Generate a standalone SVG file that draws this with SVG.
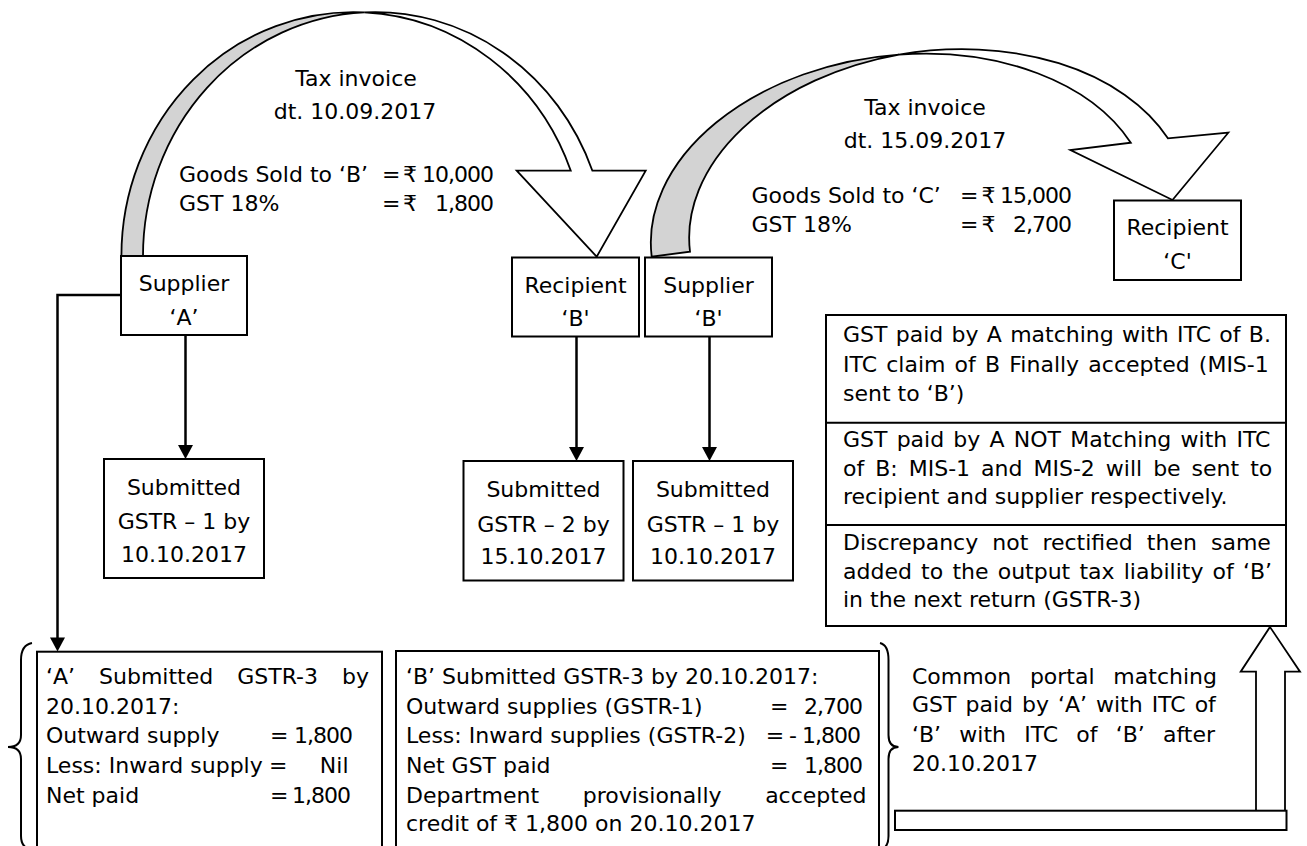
<svg xmlns="http://www.w3.org/2000/svg" width="1307" height="846" viewBox="0 0 1307 846">
<defs>
<style>
.box{fill:#fff;stroke:#000;stroke-width:2}
.ln{fill:none;stroke:#000;stroke-width:2}
.t{font-family:"DejaVu Sans","Liberation Sans",sans-serif;font-size:22px;fill:#000}
.c{text-anchor:middle}
.e{text-anchor:end}
.n{letter-spacing:-1px}
.conn{fill:none;stroke:#000;stroke-width:2.5}
.blk{fill:#fff;stroke:#000;stroke-width:1.8;stroke-linejoin:miter}
.back{fill:#d3d3d3;stroke:#000;stroke-width:1.8}
.brace{fill:none;stroke:#000;stroke-width:2}
</style>
<marker id="ah" viewBox="0 0 16 16" markerUnits="userSpaceOnUse" markerWidth="16" markerHeight="16" refX="12" refY="8" orient="auto">
<path d="M1,0.5 L15,8 L1,15.5 Z" fill="#000"/>
</marker>
</defs>
<rect width="1307" height="846" fill="#fff"/>

<g id="connectors">
<g id="invoice-arrow-1">
<path class="back" d="M121.4,256 A232 244 0 0 1 364.2,12.3 A232 244 0 0 0 143,256 Z"/>
<path class="blk" d="M364.2,12.3 A232 244 0 0 1 592.4,170.7 L645.7,170.7 L596.7,256.7 L516.7,170.7 L570.8,170.7 A232 244 0 0 0 364.2,12.3 Z"/>
</g>
<g id="invoice-arrow-2">
<path class="back" d="M651.7,256.7 A251.3 171 -7 0 1 899,54.6 A251.3 171 -7 0 0 690,251.7 Z"/>
<path class="blk" d="M899,54.6 A251.3 171 -7 0 1 1167.9,138.3 L1228.3,132.7 L1172.5,200 L1070.4,150 L1130.8,142.7 A251.3 171 -7 0 0 899,54.6 Z"/>
</g>
<path class="conn" d="M185.5,335 V456" marker-end="url(#ah)"/>
<path class="conn" d="M576.5,337 V458" marker-end="url(#ah)"/>
<path class="conn" d="M709.5,337 V458" marker-end="url(#ah)"/>
<path class="conn" d="M121,295 H57.5 V648.5" marker-end="url(#ah)"/>
</g>

<g id="invoice-label-1">
<text class="t c" x="356" y="86">Tax invoice</text>
<text class="t c" x="355" y="119">dt. 10.09.2017</text>
<text class="t" x="179" y="182">Goods Sold to ‘B’</text>
<text class="t" x="382" y="182">=</text>
<text class="t" x="403" y="182">₹</text>
<text class="t e n" x="493" y="182">10,000</text>
<text class="t" x="179" y="211">GST 18%</text>
<text class="t" x="382" y="211">=</text>
<text class="t" x="403" y="211">₹</text>
<text class="t e n" x="493" y="211">1,800</text>
</g>

<g id="invoice-label-2">
<text class="t c" x="925" y="115">Tax invoice</text>
<text class="t c" x="925" y="148">dt. 15.09.2017</text>
<text class="t" x="751.5" y="203">Goods Sold to ‘C’</text>
<text class="t" x="960" y="203">=</text>
<text class="t" x="981.5" y="203">₹</text>
<text class="t e n" x="1071" y="203">15,000</text>
<text class="t" x="751.5" y="232">GST 18%</text>
<text class="t" x="960" y="232">=</text>
<text class="t" x="981.5" y="232">₹</text>
<text class="t e n" x="1071" y="232">2,700</text>
</g>

<g id="supplier-a">
<rect class="box" x="121" y="256" width="126" height="79"/>
<text class="t c" x="184" y="291">Supplier</text>
<text class="t c" x="184" y="325">‘A’</text>
</g>

<g id="recipient-b">
<rect class="box" x="512" y="257.5" width="127" height="79"/>
<text class="t c" x="575.5" y="292.5">Recipient</text>
<text class="t c" x="575.5" y="326">‘B'</text>
</g>

<g id="supplier-b">
<rect class="box" x="645" y="257.5" width="127" height="79"/>
<text class="t c" x="708.5" y="292.5">Supplier</text>
<text class="t c" x="708.5" y="326">‘B'</text>
</g>

<g id="recipient-c">
<rect class="box" x="1114" y="200.5" width="127" height="79.5"/>
<text class="t c" x="1177.5" y="235">Recipient</text>
<text class="t c" x="1177.5" y="269">‘C'</text>
</g>

<g id="gstr1-a">
<rect class="box" x="104" y="459" width="160" height="119"/>
<text class="t c" x="184" y="495">Submitted</text>
<text class="t c" x="184" y="529">GSTR – 1 by</text>
<text class="t c" x="184" y="562">10.10.2017</text>
</g>

<g id="gstr2-b">
<rect class="box" x="463.5" y="461" width="160" height="119.5"/>
<text class="t c" x="543.5" y="497">Submitted</text>
<text class="t c" x="543.5" y="531.5">GSTR – 2 by</text>
<text class="t c" x="543.5" y="564">15.10.2017</text>
</g>

<g id="gstr1-b">
<rect class="box" x="633" y="461" width="160" height="119.5"/>
<text class="t c" x="713" y="497">Submitted</text>
<text class="t c" x="713" y="531.5">GSTR – 1 by</text>
<text class="t c" x="713" y="564">10.10.2017</text>
</g>

<g id="matching-results">
<rect class="box" x="826" y="315" width="460" height="311"/>
<path class="ln" d="M826,422.7 H1286 M826,525 H1286"/>
<text class="t" x="843" y="342" style="word-spacing:1.3px">GST paid by A matching with ITC of B.</text>
<text class="t" x="843" y="371.5" style="word-spacing:2.2px">ITC claim of B Finally accepted (MIS-1</text>
<text class="t" x="843" y="400.5">sent to ‘B’)</text>
<text class="t" x="843" y="447" style="word-spacing:2.2px">GST paid by A NOT Matching with ITC</text>
<text class="t" x="843" y="476" style="word-spacing:4px">of B: MIS-1 and MIS-2 will be sent to</text>
<text class="t" x="843" y="504">recipient and supplier respectively.</text>
<text class="t" x="843" y="550" style="word-spacing:7.1px">Discrepancy not rectified then same</text>
<text class="t" x="843" y="578.5" style="word-spacing:2.2px">added to the output tax liability of ‘B’</text>
<text class="t" x="843" y="607">in the next return (GSTR-3)</text>
</g>

<g id="gstr3-a">
<path class="brace" d="M32,643 Q21,645 21,660 L21,735 Q21,747 8,747 Q21,747 21,759 L21,836 Q21,848 32,850"/>
<rect class="box" x="37" y="651.7" width="345" height="210"/>
<text class="t" x="46" y="684" style="word-spacing:17px">‘A’ Submitted GSTR-3 by</text>
<text class="t" x="46" y="713.5">20.10.2017:</text>
<text class="t" x="46" y="743">Outward supply</text>
<text class="t" x="270" y="743">=</text>
<text class="t e n" x="352" y="743">1,800</text>
<text class="t" x="46" y="772.5">Less: Inward supply</text>
<text class="t" x="269" y="772.5">=</text>
<text class="t e" x="348.5" y="772.5">Nil</text>
<text class="t" x="46" y="802.5">Net paid</text>
<text class="t" x="270" y="802.5">=</text>
<text class="t e n" x="350" y="802.5">1,800</text>
</g>

<g id="gstr3-b">
<rect class="box" x="396" y="651" width="483" height="210"/>
<path class="brace" d="M880,643 Q888.5,645 888.5,660 L888.5,735 Q888.5,747 898.5,747 Q888.5,747 888.5,759 L888.5,836 Q888.5,848 880,850"/>
<text class="t" x="406" y="684">‘B’ Submitted GSTR-3 by 20.10.2017:</text>
<text class="t" x="406" y="713.5">Outward supplies (GSTR-1)</text>
<text class="t" x="770" y="713.5">=</text>
<text class="t e n" x="862" y="713.5">2,700</text>
<text class="t" x="406" y="743">Less: Inward supplies (GSTR-2)</text>
<text class="t e n" x="860" y="743">= - 1,800</text>
<text class="t" x="406" y="772.5">Net GST paid</text>
<text class="t" x="770" y="772.5">=</text>
<text class="t e n" x="862" y="772.5">1,800</text>
<text class="t" x="406" y="802.5" style="word-spacing:36.6px">Department provisionally accepted</text>
<text class="t" x="406" y="831">credit of ₹ 1,800 on 20.10.2017</text>
</g>

<g id="common-portal">
<text class="t" x="912" y="683.5" style="word-spacing:11.8px">Common portal matching</text>
<text class="t" x="912" y="712" style="word-spacing:2px">GST paid by ‘A’ with ITC of</text>
<text class="t" x="912" y="741.5" style="word-spacing:11.2px">‘B’ with ITC of ‘B’ after</text>
<text class="t" x="912" y="770.5">20.10.2017</text>
<path class="blk" d="M1256,810.7 V671.7 H1240.7 L1270,627 L1300,671.7 H1285 V810.7"/>
<rect class="box" x="895" y="810.7" width="391.5" height="19.3"/>
</g>
</svg>
